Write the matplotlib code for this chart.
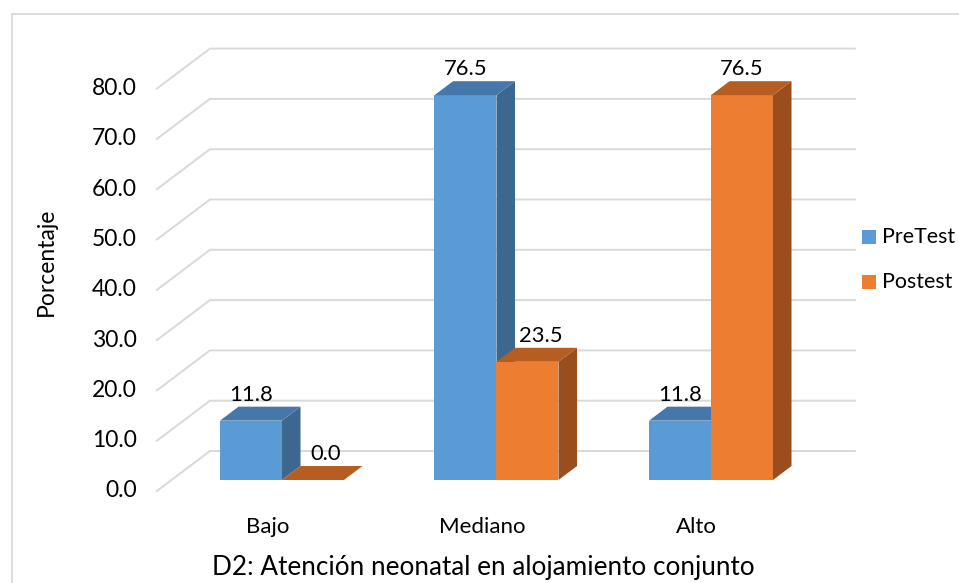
import matplotlib
matplotlib.use('Agg')

import matplotlib.pyplot as plt
from matplotlib.patches import Polygon, Rectangle

plt.rcParams['font.family'] = ['Lato', 'DejaVu Sans']

categories = ['Bajo', 'Mediano', 'Alto']
pretest = [11.8, 76.5, 11.8]
postest = [0.0, 23.5, 76.5]
series_names = ['PreTest', 'Postest']
y_ticks = [0, 10, 20, 30, 40, 50, 60, 70, 80]

# face colours: front, top, side
blue = ('#5B9BD5', '#4677AA', '#3C6890')
orange = ('#ED7D31', '#B65E22', '#9A4E1D')
grid_color = '#D9D9D9'

# oblique projection: depth 0 is the front plane, depth 1 the back wall
DX = 0.247      # horizontal shift of the back wall, category units
DY = 7.95       # vertical shift of the back wall, percent units
BAR_W = 0.289
D0, D1 = 0.275, 0.625   # depth range occupied by the bars
X_LEFT, X_RIGHT = -0.515, 2.492


def proj(x, v, d):
    return (x + d * DX, v + d * DY)


def bar3d(ax, x0, height, colors):
    x1 = x0 + BAR_W
    front = [proj(x0, 0, D0), proj(x1, 0, D0), proj(x1, height, D0), proj(x0, height, D0)]
    top = [proj(x0, height, D0), proj(x1, height, D0), proj(x1, height, D1), proj(x0, height, D1)]
    side = [proj(x1, 0, D0), proj(x1, 0, D1), proj(x1, height, D1), proj(x1, height, D0)]
    if height > 0:
        ax.add_patch(Polygon(front, closed=True, facecolor=colors[0], edgecolor='none', zorder=3))
        ax.add_patch(Polygon(side, closed=True, facecolor=colors[2], edgecolor='none', zorder=3))
    ax.add_patch(Polygon(top, closed=True, facecolor=colors[1], edgecolor='none', zorder=3))


fig = plt.figure(figsize=(9.59, 5.83), dpi=100)
ax = fig.add_axes([0, 0, 1, 1])
ax.set_xlim(-1.2466, 3.2242)
ax.set_ylim(-18.29, 97.61)
ax.axis('off')

# chart border
fig.patches.append(Rectangle((12 / 959, -0.05), 1.1, 1 - 14 / 583 + 0.05,
                             transform=fig.transFigure, fill=False,
                             edgecolor=grid_color, linewidth=1.3))

# gridlines on the side wall and back wall, with tick labels
for t in y_ticks:
    xa, ya = proj(X_LEFT, t, 0)
    xb, yb = proj(X_LEFT, t, 1)
    xc, yc = proj(X_RIGHT, t, 1)
    ax.plot([xa, xb, xc], [ya, yb, yc], color=grid_color, linewidth=1.4, zorder=1,
            solid_joinstyle='miter')
    ax.text(X_LEFT - 0.093, t, f'{t:.1f}', ha='right', va='center', fontsize=16.5, color='#000000')

# bars, drawn left to right so later faces cover hidden sides
for i, (pre, post) in enumerate(zip(pretest, postest)):
    bar3d(ax, i - BAR_W, pre, blue)
    bar3d(ax, i, post, orange)

# value labels
nudges = [(0, 0.06), (0, 0.06), (0, 0)]
for i, (pre, post) in enumerate(zip(pretest, postest)):
    for j, (val, x0) in enumerate([(pre, i - BAR_W), (post, i)]):
        yl = proj(x0, val, D1)[1]
        xl = x0 + BAR_W / 2 + D0 * DX + nudges[i][j]
        ax.text(xl, yl + 2.4, f'{val:.1f}', ha='center', va='center', fontsize=15.8)

# category labels
for i, name in enumerate(categories):
    ax.text(i, -7.16, name, ha='center', va='center', fontsize=16)

fig.text(483 / 959, 1 - 568 / 583, 'D2: Atención neonatal en alojamiento conjunto',
         ha='center', va='center', fontsize=18.8)
fig.text(46 / 959, 1 - 262 / 583, 'Porcentaje', rotation=90,
         ha='center', va='center', fontsize=16.5)

# legend
for k, (name, col) in enumerate(zip(series_names, [blue[0], orange[0]])):
    yc = 237 + 45 * k
    fig.patches.append(Rectangle((862 / 959, 1 - (yc + 7) / 583), 14 / 959, 14 / 583,
                                 transform=fig.transFigure, facecolor=col, edgecolor='none'))
    fig.text(882 / 959, 1 - yc / 583, name, ha='left', va='center', fontsize=15.4)

fig.savefig('out.png', dpi=100)
